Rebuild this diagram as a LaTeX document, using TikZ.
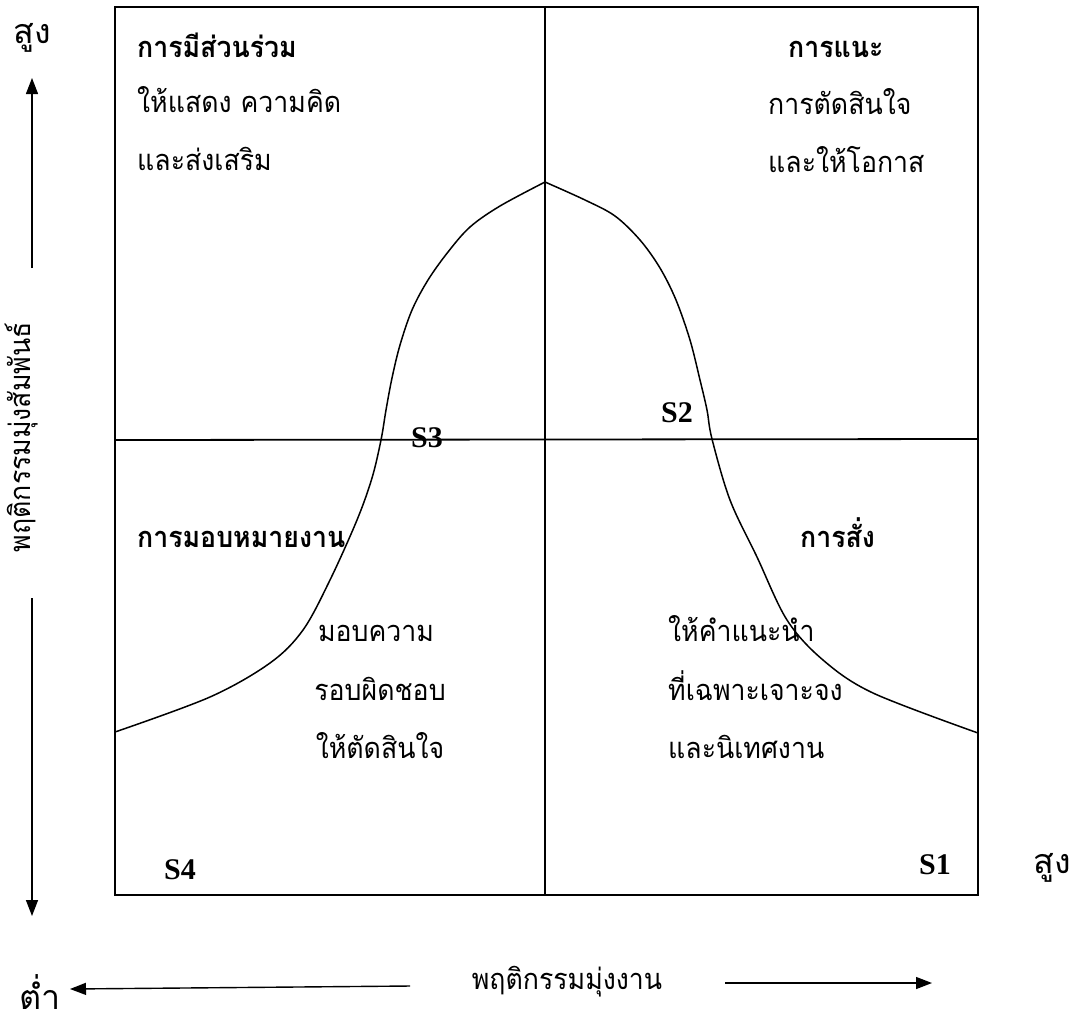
\documentclass[tikz,border=0pt]{standalone}
\usepackage{fontspec}
\setmainfont{Liberation Serif}
\newfontfamily\thai[Script=Thai,FakeStretch=0.92]{Loma}
\newfontfamily\thaiwide[Script=Thai]{Loma}
\usetikzlibrary{arrows.meta}
\tikzset{
  frame/.style={line width=1.8pt},
  curveline/.style={line width=1.5pt},
  axis/.style={line width=1.4pt,-{Triangle[length=16pt,width=12pt]}},
  txt/.style={inner sep=0pt,anchor=base west,font=\thai\fontsize{29}{31}\selectfont},
  txtc/.style={inner sep=0pt,anchor=base,font=\thai\fontsize{29}{31}\selectfont},
  btxt/.style={inner sep=0pt,anchor=base west,font=\thai\bfseries\fontsize{29}{31}\selectfont},
  slab/.style={inner sep=0pt,anchor=base,font=\bfseries\fontsize{30}{32}\selectfont},
  big/.style={inner sep=0pt,font=\thaiwide\fontsize{34}{36}\selectfont},
}
\begin{document}
\begin{tikzpicture}[x=1pt,y=-1pt]
\useasboundingbox (0,0) rectangle (1086,1029);
\fill[white] (0,0) rectangle (1086,1029);
% frame
\draw[frame] (115,7) rectangle (978,895);
\draw[frame] (545,7) -- (545,895);
\draw[frame] (115,440) -- (978,439);
% curve
\draw[curveline] plot[smooth,tension=0.55] coordinates {(115,732) (210,697) (270,663) (303,630) (330,580) (357,520) (372,478) (381,440) (386,410) (392,378) (400,345) (412,310) (428,280) (448,252) (470,227) (500,206) (545,182)};
\draw[curveline] plot[smooth,tension=0.55] coordinates {(545,182) (585,200) (615,216) (640,240) (660,268) (676,300) (690,340) (700,380) (707,410) (712,439) (730,500) (757,557) (787,620) (823,660) (873,693) (978,733)};
% top-left quadrant
\node[btxt] (q3a) at (137,57) {การมีส่วนร่วม};
\node[txt]  (q3b) at (137,112) {ให้แสดง ความคิด};
\node[txt]  (q3c) at (137,170) {และส่งเสริม};
% top-right quadrant
\node[btxt] (q2a) at (788,57) {การแนะ};
\node[txt]  (q2b) at (768,114) {การตัดสินใจ};
\node[txt]  (q2c) at (768,172) {และให้โอกาส};
% lower-left
\node[btxt] (q4a) at (137,547) {การมอบหมายงาน};
\node[txtc] (q4b) at (376,641) {มอบความ};
\node[txtc] (q4c) at (380,700) {รอบผิดชอบ};
\node[txtc] (q4d) at (380,758) {ให้ตัดสินใจ};
% lower-right
\node[btxt] (q1a) at (800,547) {การสั่ง};
\node[txt]  (q1b) at (668,641) {ให้คำแนะนำ};
\node[txt]  (q1c) at (668,700) {ที่เฉพาะเจาะจง};
\node[txt]  (q1d) at (668,758) {และนิเทศงาน};
% S labels
\node[slab] (s3) at (427,447) {S3};
\node[slab] (s2) at (677,422) {S2};
\node[slab] (s4) at (180,879) {S4};
\node[slab] (s1) at (935,874) {S1};
% axis labels
\node[big] (hiy) at (32,38) {สูง};
\node[big] (hix) at (1052,868) {สูง};
\node[big] (lo) at (40,992) {ต่ำ};
\node[inner sep=0pt,rotate=90,font=\thai\fontsize{29}{31}\selectfont] (ylab) at (22,437) {พฤติกรรมมุ่งสัมพันธ์};
\node[inner sep=0pt,font=\thai\fontsize{29}{31}\selectfont] (xlab) at (567,982) {พฤติกรรมมุ่งงาน};
% axes arrows
\coordinate (yup0) at (32,268);
\coordinate (yup1) at (32,78);
\coordinate (ydn0) at (32,598);
\coordinate (ydn1) at (32,916);
\coordinate (xl0) at (410,986);
\coordinate (xl1) at (70,989);
\coordinate (xr0) at (725,983);
\coordinate (xr1) at (932,983);
\draw[axis] (yup0) -- (yup1);
\draw[axis] (ydn0) -- (ydn1);
\draw[axis] (xl0) -- (xl1);
\draw[axis] (xr0) -- (xr1);
\end{tikzpicture}
\end{document}
